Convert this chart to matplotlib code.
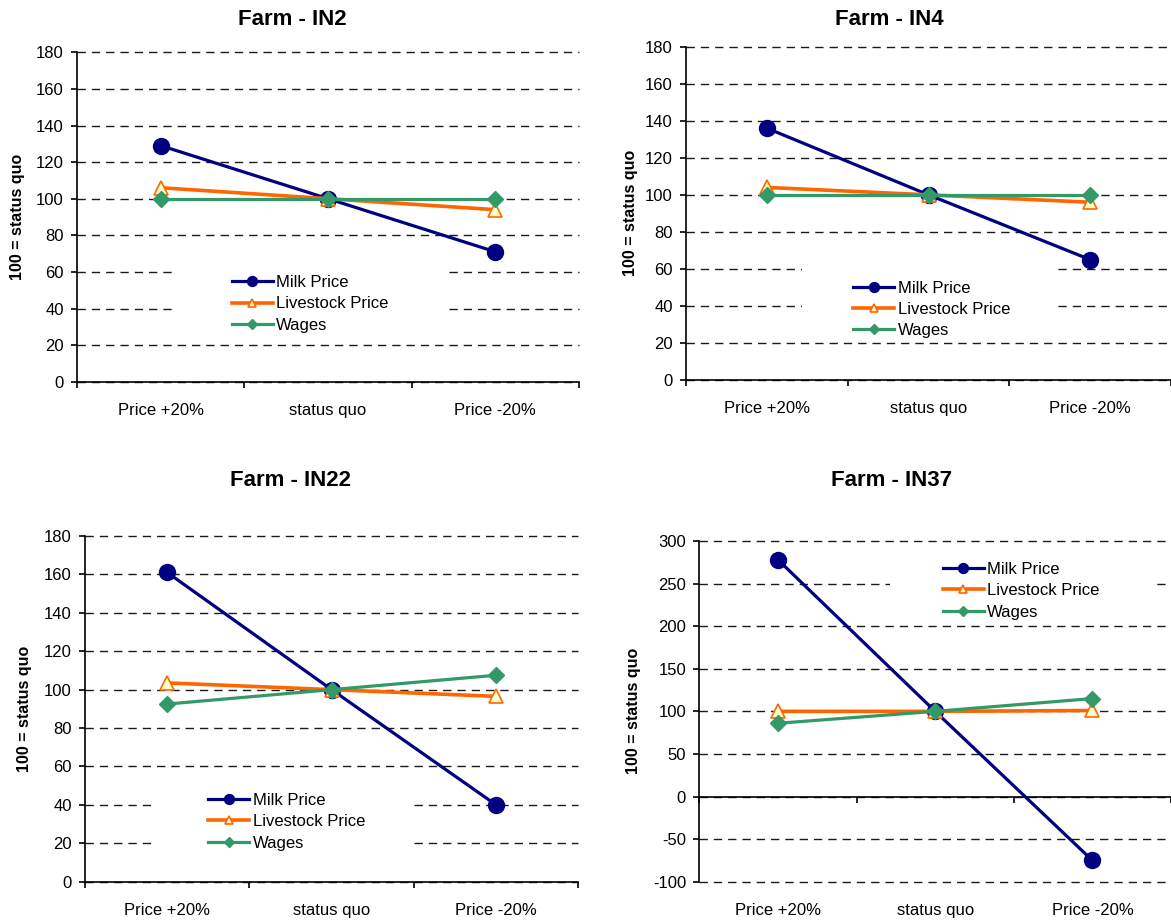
import matplotlib
matplotlib.use("Agg")
import matplotlib.pyplot as plt
from matplotlib.patches import Rectangle
from matplotlib.transforms import blended_transform_factory

plt.rcParams['font.family'] = ['Liberation Sans', 'DejaVu Sans']
plt.rcParams['axes.unicode_minus'] = False

# ---------------- data ----------------
categories = ["Price +20%", "status quo", "Price -20%"]
series_names = ["Milk Price", "Livestock Price", "Wages"]

farm_titles = ["Farm - IN2", "Farm - IN4", "Farm - IN22", "Farm - IN37"]

in2_milk = [129, 100, 71]
in2_livestock = [106, 100, 94]
in2_wages = [100, 100, 100]

in4_milk = [136, 100, 65]
in4_livestock = [104, 100, 96]
in4_wages = [100, 100, 100]

in22_milk = [161, 100, 40]
in22_livestock = [103.5, 100, 96.5]
in22_wages = [92.5, 100, 107.5]

in37_milk = [278, 100, -75]
in37_livestock = [100, 100, 101]
in37_wages = [86, 100, 115]

y_ticks_180 = list(range(0, 181, 20))
y_ticks_in37 = list(range(-100, 301, 50))

ylabel_text = "100 = status quo"

# ---------------- styles ----------------
W, H = 1171, 922
fig = plt.figure(figsize=(W / 100, H / 100), dpi=100)

styles = [
    dict(color="#000080", marker="o", markersize=11.5, markerfacecolor="#000080",
         markeredgecolor="#000080", lw=2.3),
    dict(color="#FF6600", marker="^", markersize=10, markerfacecolor="#FFFFCC",
         markeredgecolor="#FF6600", markeredgewidth=1.2, lw=2.6),
    dict(color="#339966", marker="D", markersize=8.5, markerfacecolor="#339966",
         markeredgecolor="#339966", lw=2.3),
]

panels = [
    dict(title=farm_titles[0], data=[in2_milk, in2_livestock, in2_wages], yt=y_ticks_180,
         ax_px=(77, 52.3, 579, 381.7), title_px=(292, 25), ylab_x=-0.104,
         leg=(0.308, 0.236), gap=(0.189, 0.738, 25, 74)),
    dict(title=farm_titles[1], data=[in4_milk, in4_livestock, in4_wages], yt=y_ticks_180,
         ax_px=(686, 46.7, 1171, 380), title_px=(889, 25), ylab_x=-0.099,
         leg=(0.345, 0.212), gap=(0.239, 0.761, 25, 74)),
    dict(title=farm_titles[2], data=[in22_milk, in22_livestock, in22_wages], yt=y_ticks_180,
         ax_px=(85, 536, 578.3, 881.7), title_px=(290, 486), ylab_x=-0.107,
         leg=(0.25, 0.1736), gap=(0.14, 0.659, 5, 55)),
    dict(title=farm_titles[3], data=[in37_milk, in37_livestock, in37_wages], yt=y_ticks_in37,
         ax_px=(699.3, 541, 1171, 881.7), title_px=(891.5, 486), ylab_x=-0.124,
         leg=(0.516, 0.854), gap=(0.404, 0.961, 213, 287)),
]

xpos = [i + 0.5 for i in range(len(categories))]

for p in panels:
    l, t, r, b = p["ax_px"]
    ax = fig.add_axes([l / W, 1 - b / H, (r - l) / W, (b - t) / H])
    yt = p["yt"]
    ax.set_xlim(0, 3)
    ax.set_ylim(yt[0], yt[-1])

    # grid
    ax.set_axisbelow(True)
    ax.set_yticks(yt)
    ax.yaxis.grid(True, color="#1a1a1a", linestyle=(0, (6, 4.3)), linewidth=1.0)
    ax.xaxis.grid(False)
    for gl in ax.yaxis.get_gridlines():
        gl.set_clip_on(False)

    # spines
    for s in ["top", "right"]:
        ax.spines[s].set_visible(False)
    ax.spines["left"].set_linewidth(1.2)
    ax.spines["bottom"].set_linewidth(1.2)
    if yt[0] < 0:
        ax.spines["bottom"].set_position(("data", 0))

    ax.set_xticks([0, 1, 2, 3])
    ax.set_xticklabels([])
    ax.tick_params(axis="x", direction="out", length=4, width=1.2)
    ax.tick_params(axis="y", direction="out", length=4.5, width=1.2, pad=5,
                   labelsize=12)

    # category labels at the bottom of the plot area
    for xp, c in zip(xpos, categories):
        ax.annotate(c, xy=(xp, 0), xycoords=("data", "axes fraction"),
                    xytext=(0, -24), textcoords="offset points",
                    ha="center", va="baseline", fontsize=12)

    # white legend background masking gridlines
    x0, x1, y0, y1 = p["gap"]
    tr = blended_transform_factory(ax.transAxes, ax.transData)
    ax.add_patch(Rectangle((x0, y0), x1 - x0, y1 - y0, transform=tr,
                           facecolor="white", edgecolor="none", zorder=1))

    handles = []
    for vals, st, name in zip(p["data"], styles, series_names):
        ln, = ax.plot(xpos, vals, label=name, zorder=3, clip_on=False, **st)
        handles.append(ln)

    leg = ax.legend(handles=handles, loc="center left", bbox_to_anchor=p["leg"],
                    frameon=False, fontsize=12, borderpad=0, borderaxespad=0,
                    handlelength=2.47, handletextpad=0.2, labelspacing=0.38,
                    markerscale=0.62)
    leg.set_zorder(4)

    ax.set_ylabel(ylabel_text, fontsize=11.5, fontweight="bold")
    ax.yaxis.set_label_coords(p["ylab_x"], 0.5)

    tx, ty = p["title_px"]
    fig.text(tx / W, 1 - ty / H, p["title"], ha="center", va="baseline",
             fontsize=16, fontweight="bold")

fig.savefig("out.png", dpi=100)
